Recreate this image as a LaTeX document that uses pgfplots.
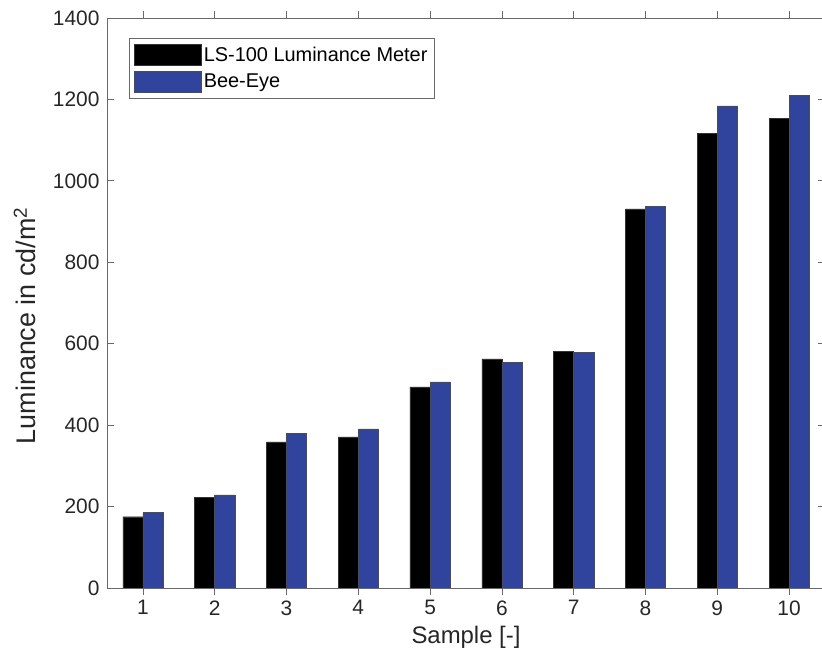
\documentclass[border=0pt]{standalone}
\usepackage{pgfplots}
\pgfplotsset{compat=1.18}
\usepackage{fontspec}
\setmainfont{Liberation Sans}
\definecolor{beeblue}{RGB}{48,68,158}
\definecolor{axgray}{RGB}{105,105,105}
\begin{document}
\begin{tikzpicture}
\path[use as bounding box] (-107bp,-67bp) rectangle (715bp,588bp);
\begin{axis}[
  at={(0,0)}, anchor=south west,
  scale only axis, width=718bp, height=570bp,
  xmin=0.5, xmax=10.5, ymin=0, ymax=1400,
  xtick={1,2,...,10}, ytick={0,200,...,1400},
  tick align=inside, major tick length=7bp,
  axis line style={axgray, line width=0.8pt},
  tick style={axgray, line width=0.8pt},
  /pgf/number format/assume math mode=true,
  /pgf/number format/1000 sep={},
  ticklabel style={font=\fontsize{21}{24}\selectfont, text=black!85},
  xticklabel style={yshift=-2bp},
  yticklabel style={xshift=-4bp},
  xlabel={Sample [-]},
  ylabel={Luminance in cd/m\textsuperscript{2}},
  xlabel style={font=\fontsize{24}{28}\selectfont, text=black!85, yshift=-4bp},
  ylabel style={font=\fontsize{27}{30}\selectfont, text=black!85, at={(ticklabel cs:0.46,10bp)}},
  ybar, bar width=0.28,
  legend style={at={(0.0306,0.965)}, anchor=north west, draw=axgray, line width=0.6pt,
    font=\fontsize{20}{24}\selectfont, inner xsep=5bp, inner ysep=6bp,
    row sep=5bp, cells={anchor=west}},
  legend image code/.code={\draw[#1, bar shift=0pt, bar width=0pt] (0bp,-10.5bp) rectangle (67bp,10.5bp);},
  legend cell align=left,
]
\addplot[fill=black, draw=black!80, line width=0.5pt, bar shift=-0.14] coordinates {
(1,175) (2,223) (3,359) (4,371) (5,494) (6,563) (7,582) (8,931) (9,1117) (10,1153)};
\addlegendentry{LS-100 Luminance Meter}
\addplot[fill=beeblue, draw=black!70, line width=0.5pt, bar shift=0.14] coordinates {
(1,185) (2,229) (3,380) (4,391) (5,506) (6,555) (7,579) (8,938) (9,1184) (10,1210)};
\addlegendentry{Bee-Eye}
\end{axis}
\end{tikzpicture}
\end{document}
